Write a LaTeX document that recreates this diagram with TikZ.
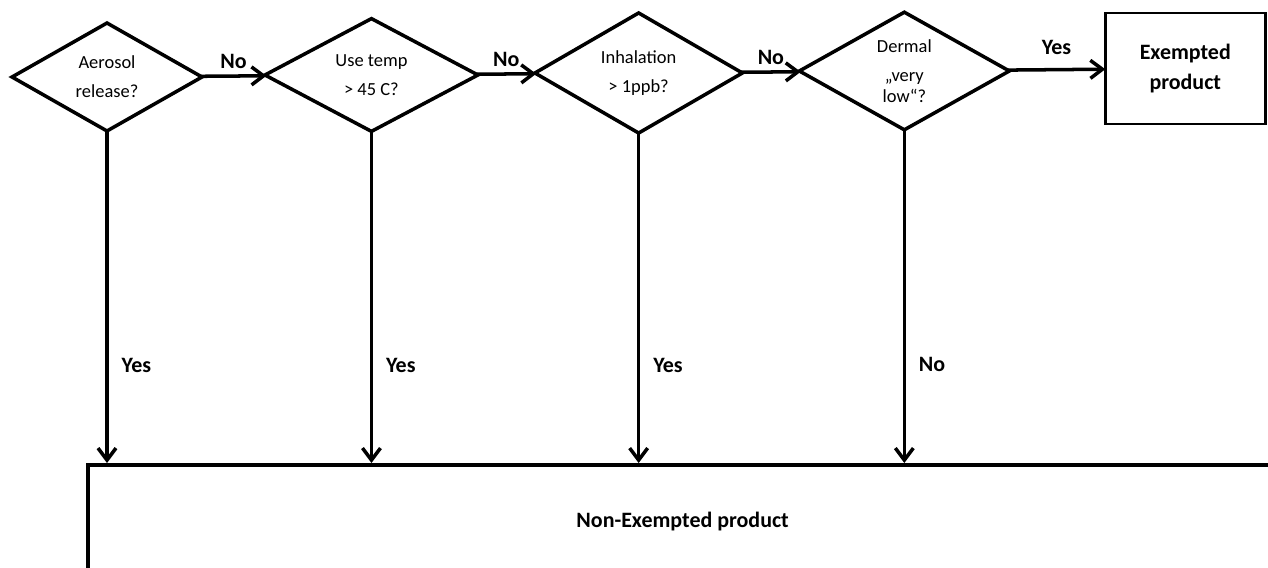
\documentclass[tikz,border=0pt]{standalone}
\usepackage{fontspec}
\setmainfont{Carlito}
\usetikzlibrary{positioning}
\usetikzlibrary{arrows.meta,shapes.geometric}

\begin{document}
\begin{tikzpicture}[x=0.02cm,y=-0.02cm,
		question/.style={draw,diamond,line width=2pt,outer sep=0pt,align=center,inner sep=0pt,minimum width=4.15cm,minimum height=2.16cm,font=\fontsize{10.5}{16.4}\selectfont},
		answer/.style={font=\bfseries\fontsize{12.5}{17}\selectfont},
		flow/.style={line width=2pt,-{Straight Barb[length=2.4mm,width=3.6mm]}}]
				\useasboundingbox (0,0) rectangle (1268,568);
				\clip (0,0) rectangle (1268,568);
				\node[question,minimum width=3.8cm](aerosol) at (107,77){Aerosol\\release?};
				\node[question,right=1.26cm of aerosol,minimum width=4.26cm,yshift=.04cm](temp){Use temp\\> 45 C?};
				\node[question,right=1.14cm of temp,yshift=.04cm](inhal){Inhalation\\> 1ppb?};
				\node[question,right=1.14cm of inhal,minimum width=4.2cm,minimum height=2.12cm,yshift=.04cm](dermal){Dermal\\„very\\[-4.4pt]low“?};
				\node[draw,line width=1.6pt,outer sep=0pt,right=1.92cm of dermal,minimum width=3.2cm,minimum height=2.22cm,align=center,answer,yshift=.05cm](exempt){Exempted\\product};
				\node[draw,line width=2pt,anchor=north west,minimum width=23.8cm,minimum height=2.28cm,answer](nonex) at (86,463){Non-Exempted product};

				\draw[flow] (aerosol) to node[above,answer]{No} (temp);
				\draw[flow] (temp) to node[above,answer]{No} (inhal);
				\draw[flow] (inhal) to node[above,answer]{No} (dermal);
				\draw[flow] (dermal) to node[above=4pt,answer]{Yes} (exempt);
				\draw[flow] (aerosol) to node[pos=.705,right=.14cm,answer]{Yes} (aerosol |- nonex.north);
				\draw[flow] (temp) to node[pos=.705,right=.14cm,answer]{Yes} (temp |- nonex.north);
				\draw[flow] (inhal) to node[pos=.705,right=.14cm,answer]{Yes} (inhal |- nonex.north);
				\draw[flow] (dermal) to node[pos=.705,right=.14cm,answer]{No} (dermal |- nonex.north);
			\end{tikzpicture}
\end{document}
